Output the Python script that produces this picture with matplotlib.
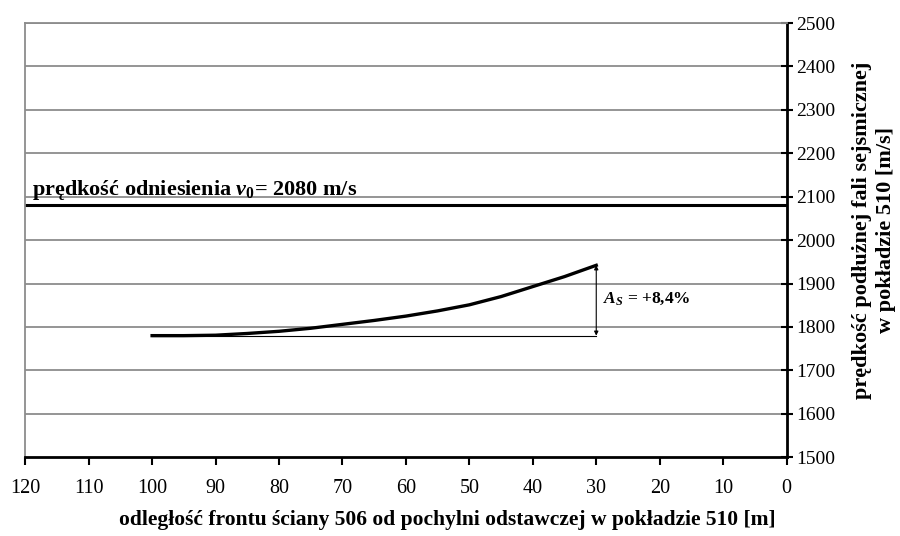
import matplotlib
matplotlib.use("Agg")
import matplotlib.pyplot as plt

# data
dist = [100, 95, 90, 85, 80, 75, 70, 65, 60, 55, 50, 45, 40, 35, 30]
velocity = [1780, 1780, 1781, 1785, 1790, 1797, 1806, 1815, 1825, 1837, 1851, 1870, 1893, 1916, 1942]
v0 = 2080
x_ticks = [120, 110, 100, 90, 80, 70, 60, 50, 40, 30, 20, 10, 0]
y_ticks = [1500, 1600, 1700, 1800, 1900, 2000, 2100, 2200, 2300, 2400, 2500]
base_v = 1780
top_v = 1942
arrow_x = 30
start_x = 100

plt.rcParams['font.family'] = ['Liberation Serif', 'DejaVu Serif']
plt.rcParams['mathtext.fontset'] = 'custom'
plt.rcParams['mathtext.rm'] = 'Liberation Serif:bold'
plt.rcParams['mathtext.it'] = 'Liberation Serif:italic:bold'
plt.rcParams['mathtext.bf'] = 'Liberation Serif:bold'

fig = plt.figure(figsize=(9, 5.36), dpi=100)
ax = fig.add_axes([0.028, 0.147, 0.846, 0.81])

ax.set_xlim(120, 0)
ax.set_ylim(1500, 2500)
ax.set_xticks(x_ticks)
ax.set_yticks(y_ticks)

for y in y_ticks[1:]:
    ax.axhline(y, color='#8c8c8c', lw=1.3, zorder=1)

ax.axhline(v0, color='black', lw=2.2, zorder=2)
ax.plot(dist, velocity, color='black', lw=2.4, zorder=4)

ax.plot([start_x, arrow_x], [base_v, base_v], color='black', lw=0.8, zorder=3)
ax.annotate('', xy=(arrow_x, top_v), xytext=(arrow_x, base_v),
            arrowprops=dict(arrowstyle='<|-|>', color='black', lw=0.8,
                            mutation_scale=6, shrinkA=0, shrinkB=0), zorder=3)

ax.text(29.0, 1865, r'$A_S$ = +8,4%', fontsize=12.5, fontweight='bold',
        ha='left', va='center')
ax.text(119, 2087, r'prędkość odniesienia $v_0$= 2080 m/s', fontsize=16,
        fontweight='bold', ha='left', va='bottom')

ax.yaxis.tick_right()
ax.yaxis.set_label_position('right')
ax.tick_params(axis='y', direction='inout', length=8, width=1.5, labelsize=14, pad=3)
ax.tick_params(axis='x', direction='out', length=6, width=1.5, labelsize=14.5, pad=10)

ax.spines['top'].set_color('#8c8c8c')
ax.spines['top'].set_linewidth(1.3)
ax.spines['left'].set_color('#8c8c8c')
ax.spines['left'].set_linewidth(1.3)
ax.spines['right'].set_linewidth(2)
ax.spines['bottom'].set_linewidth(2)

ax.set_ylabel('prędkość podłużnej fali sejsmicznej\nw pokładzie 510 [m/s]',
              fontsize=16, fontweight='bold', rotation=90, labelpad=12,
              linespacing=1.25)
ax.yaxis.label.set_y(0.523)
ax.set_xlabel('odległość frontu ściany 506 od pochylni odstawczej w pokładzie 510 [m]',
              fontsize=15.5, fontweight='bold', labelpad=8)
ax.xaxis.label.set_x(0.554)

fig.savefig('out.png', dpi=100)
